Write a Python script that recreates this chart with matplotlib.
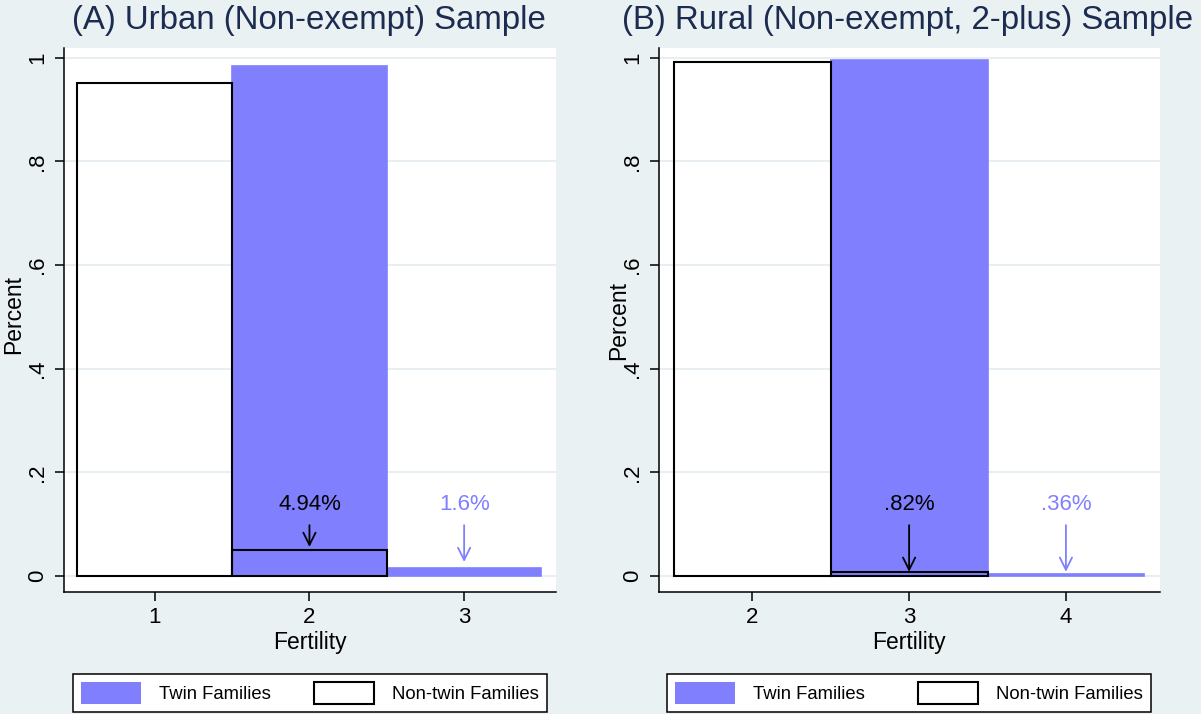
import matplotlib
matplotlib.use("Agg")
import matplotlib.pyplot as plt
from matplotlib.patches import Patch

plt.rcParams['font.family'] = ['Liberation Sans', 'DejaVu Sans']

# ---- data ----
titles = ["(A) Urban (Non-exempt) Sample", "(B) Rural (Non-exempt, 2-plus) Sample"]
fert_a = [1, 2, 3]
twin_a = [0.0, 0.984, 0.016]
nontwin_a = [0.9506, 0.0494, 0.0]
fert_b = [2, 3, 4]
twin_b = [0.0, 0.9964, 0.0036]
nontwin_b = [0.9918, 0.0082, 0.0]
ann_a = [("4.94%", 2, 0.056, "k"), ("1.6%", 3, 0.027, "t")]
ann_b = [(".82%", 3, 0.008, "k"), (".36%", 4, 0.008, "t")]
yticks = [0, 0.2, 0.4, 0.6, 0.8, 1.0]
ytick_labels = ["0", ".2", ".4", ".6", ".8", "1"]

BG = "#eaf1f3"
TWIN = "#8080ff"
NAVY = "#1c2b50"
GRID = "#e6eef1"

W, H = 1201, 714
fig = plt.figure(figsize=(W / 100, H / 100), dpi=100, facecolor=BG)

def fx(px):
    return px / W

def fy(py):
    return 1 - py / H

panels = [
    dict(left=64, right=556, fert=fert_a, twin=twin_a, non=nontwin_a, ann=ann_a,
         xlim=(0.413, 3.594), title_x=309, ylab_x=14, ylab_y=315, xlab_x=310,
         leg=(73, 547)),
    dict(left=659, right=1160, fert=fert_b, twin=twin_b, non=nontwin_b, ann=ann_b,
         xlim=(1.405, 4.60), title_x=908, ylab_x=619, ylab_y=320, xlab_x=909,
         leg=(667, 1151)),
]

def nonzero(xs, ys):
    pairs = [(x, y) for x, y in zip(xs, ys) if y > 0]
    return [a for a, _ in pairs], [b for _, b in pairs]

top_px, bot_px = 48, 592
for i, p in enumerate(panels):
    ax = fig.add_axes([fx(p['left']), fy(bot_px), fx(p['right'] - p['left']),
                       (bot_px - top_px) / H])
    ax.set_facecolor("white")
    ax.set_xlim(*p['xlim'])
    ax.set_ylim(-0.031, 1.019)
    ax.set_axisbelow(True)
    ax.grid(axis='y', color=GRID, linewidth=1.3)
    ax.grid(axis='x', visible=False)
    for s in ['top', 'right']:
        ax.spines[s].set_visible(False)
    for s in ['left', 'bottom']:
        ax.spines[s].set_linewidth(1.1)
        ax.spines[s].set_color("black")

    tx, ty = nonzero(p['fert'], p['twin'])
    nx, ny = nonzero(p['fert'], p['non'])
    ax.bar(tx, ty, width=1.0, color=TWIN, edgecolor=TWIN, linewidth=1.2, zorder=2)
    ax.bar(nx, ny, width=1.0, facecolor='none', edgecolor='black',
           linewidth=1.5, zorder=3)

    ax.set_xticks(p['fert'])
    ax.set_xticklabels([str(v) for v in p['fert']])
    ax.set_yticks(yticks)
    ax.set_yticklabels(ytick_labels, rotation=90, va='center')
    ax.tick_params(axis='both', direction='out', length=6.5, width=1.1,
                   labelsize=16, colors='black')
    ax.tick_params(axis='x', pad=4)
    ax.tick_params(axis='y', pad=5)

    for txt, xv, yend, kind in p['ann']:
        col = 'black' if kind == 'k' else TWIN
        ax.text(xv, 0.137, txt, ha='center', va='center', fontsize=16, color=col,
                zorder=5)
        ax.annotate("", xy=(xv, yend), xytext=(xv, 0.098),
                    arrowprops=dict(arrowstyle='->', color=col, lw=1.3,
                                    mutation_scale=22, shrinkA=0, shrinkB=0),
                    zorder=5)

    fig.text(fx(p['title_x']), fy(20), titles[i], ha='center', va='center',
             fontsize=23.8, color=NAVY)
    fig.text(fx(p['ylab_x']), fy(p['ylab_y']), "Percent", rotation=90,
             ha='center', va='center', fontsize=16.5)
    fig.text(fx(p['xlab_x']), fy(642), "Fertility", ha='center', va='center',
             fontsize=16.5)

    handles = [Patch(facecolor=TWIN, edgecolor='none', label='Twin Families'),
               Patch(facecolor='white', edgecolor='black', linewidth=1.5,
                     label='Non-twin Families')]
    l0, l1 = p['leg']
    leg = fig.legend(handles=handles, ncol=2, mode='expand',
                     bbox_to_anchor=(fx(l0), fy(712), fx(l1 - l0), 44 / H),
                     loc='lower left', borderaxespad=0, fontsize=13.3,
                     handlelength=3.25, handleheight=1.4, handletextpad=0.95,
                     borderpad=0.45, fancybox=False, framealpha=1,
                     edgecolor='black', facecolor='white')
    leg.get_frame().set_linewidth(1.1)

fig.savefig("out.png", dpi=100, facecolor=BG)
